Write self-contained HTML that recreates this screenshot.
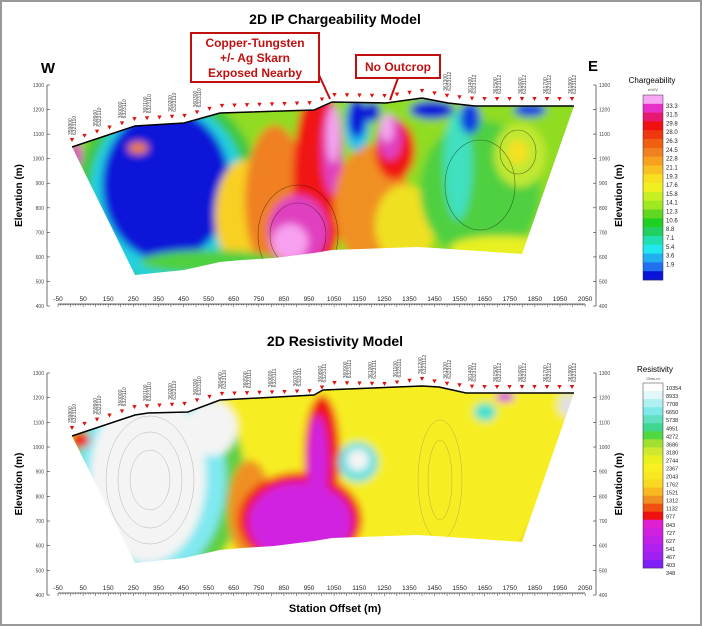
<!DOCTYPE html>
<html><head><meta charset="utf-8"><style>
html,body{margin:0;padding:0;background:#fff;}
svg{display:block;font-family:"Liberation Sans",Arial,sans-serif;}
</style></head><body>
<svg id="s" width="702" height="626" viewBox="0 0 702 626" xmlns="http://www.w3.org/2000/svg">
<defs>
<filter id="bl" x="-20%" y="-20%" width="140%" height="140%"><feGaussianBlur stdDeviation="4"/></filter>
<clipPath id="c1"><polygon points="72,147 135,126 184,123 220,113 314,110 332,102 386,103 422,98 448,103 475,106 574,106 522,254 435,248 417,247 332,250 314,253 274,258 242,260 220,262 184,270 135,275"/></clipPath>
<clipPath id="c2"><polygon points="72,436 135,415 148,413 188,412 220,400 314,395 323,390 422,386 439,387 466,393 574,393 522,542 435,536 417,535 332,538 314,541 274,546 242,548 220,550 184,558 135,563"/></clipPath>
</defs>
<rect x="0" y="0" width="702" height="626" fill="#fff"/>
<rect x="1" y="1" width="700" height="624" fill="none" stroke="#999" stroke-width="2"/>
<text x="335" y="24" font-size="14" font-weight="bold" text-anchor="middle">2D IP Chargeability Model</text>
<text x="335" y="346" font-size="14" font-weight="bold" text-anchor="middle">2D Resistivity Model</text>
<text x="335" y="612" font-size="11" font-weight="bold" text-anchor="middle">Station Offset (m)</text>
<text x="48" y="73" font-size="15" font-weight="bold" text-anchor="middle">W</text>
<text x="593" y="71" font-size="15" font-weight="bold" text-anchor="middle">E</text>

<!-- top section -->
<g clip-path="url(#c1)">
 <g filter="url(#bl)">
  <rect x="60" y="90" width="530" height="190" fill="#90dc20"/>
  <ellipse cx="168" cy="195" rx="92" ry="105" fill="#40c840"/>
  <ellipse cx="168" cy="193" rx="78" ry="90" fill="#20d0e0"/>
  <ellipse cx="166" cy="185" rx="64" ry="76" fill="#0a14d8"/>
  <ellipse cx="165" cy="138" rx="45" ry="22" fill="#0a14d8"/>
  <ellipse cx="76" cy="155" rx="6" ry="14" fill="#e040c0"/>
  <ellipse cx="138" cy="148" rx="10" ry="6" fill="#f08020"/>
  <ellipse cx="245" cy="215" rx="30" ry="55" fill="#f8d020"/>
  <ellipse cx="275" cy="200" rx="30" ry="75" fill="#f08020"/>
  <ellipse cx="318" cy="180" rx="25" ry="95" fill="#f01818"/>
  <ellipse cx="298" cy="230" rx="30" ry="35" fill="#e040c0"/>
  <ellipse cx="290" cy="242" rx="18" ry="18" fill="#f8a0f0"/>
  <ellipse cx="332" cy="150" rx="10" ry="45" fill="#e040c0"/>
  <ellipse cx="333" cy="135" rx="6" ry="28" fill="#f6a8f2"/>
  <ellipse cx="372" cy="205" rx="38" ry="60" fill="#f09020"/>
  <ellipse cx="405" cy="225" rx="30" ry="40" fill="#f0e020"/>
  <ellipse cx="357" cy="125" rx="12" ry="26" fill="#20c0f0"/>
  <ellipse cx="357" cy="118" rx="9" ry="20" fill="#0a14d8"/>
  <ellipse cx="395" cy="150" rx="20" ry="30" fill="#f01818"/>
  <ellipse cx="390" cy="138" rx="12" ry="22" fill="#e040c0"/>
  <ellipse cx="387" cy="128" rx="6" ry="14" fill="#f6a8f2"/>
  <ellipse cx="372" cy="112" rx="8" ry="10" fill="#0a14d8"/>
  <ellipse cx="480" cy="190" rx="60" ry="70" fill="#50d040"/>
  <ellipse cx="458" cy="165" rx="14" ry="55" fill="#40e0c0"/>
  <ellipse cx="520" cy="155" rx="26" ry="32" fill="#c0e830"/>
  <ellipse cx="518" cy="152" rx="10" ry="12" fill="#f8e020"/>
  <ellipse cx="432" cy="110" rx="22" ry="9" fill="#0a14d8"/>
  <ellipse cx="470" cy="118" rx="10" ry="16" fill="#1040e0"/>
  <ellipse cx="530" cy="110" rx="16" ry="7" fill="#1040e0"/>
  <ellipse cx="500" cy="248" rx="50" ry="12" fill="#e8f020"/>
  <ellipse cx="210" cy="262" rx="70" ry="12" fill="#50d040"/>
 </g>
 <g fill="none" stroke="#000" stroke-width="0.6" opacity="0.5">
  <ellipse cx="298" cy="235" rx="28" ry="32"/>
  <ellipse cx="298" cy="235" rx="40" ry="50"/>
  <ellipse cx="480" cy="185" rx="35" ry="45"/>
  <ellipse cx="518" cy="152" rx="18" ry="22"/>
 </g>
</g>
<polyline points="72,147 135,126 184,123 220,113 314,110 332,102 386,103 422,98 448,103 475,106 574,106" fill="none" stroke="#000" stroke-width="1.5"/>

<!-- bottom section -->
<g clip-path="url(#c2)">
 <g filter="url(#bl)">
  <rect x="60" y="380" width="530" height="190" fill="#f6ee20"/>
  <ellipse cx="155" cy="480" rx="90" ry="110" fill="#60d040"/>
  <ellipse cx="152" cy="478" rx="74" ry="100" fill="#80e8f0"/>
  <ellipse cx="148" cy="477" rx="58" ry="86" fill="#f4f4f4"/>
  <ellipse cx="212" cy="428" rx="25" ry="28" fill="#f4f4f4"/>
  <ellipse cx="80" cy="440" rx="10" ry="8" fill="#f01818"/>
  <ellipse cx="250" cy="510" rx="22" ry="50" fill="#f09020"/>
  <ellipse cx="300" cy="520" rx="62" ry="48" fill="#f01818"/>
  <ellipse cx="322" cy="455" rx="18" ry="60" fill="#f01818"/>
  <ellipse cx="300" cy="522" rx="52" ry="40" fill="#d020e0"/>
  <ellipse cx="318" cy="465" rx="10" ry="50" fill="#d020e0"/>
  <ellipse cx="358" cy="462" rx="20" ry="20" fill="#60e0e0"/>
  <ellipse cx="358" cy="460" rx="11" ry="11" fill="#f4f4f4"/>
  <ellipse cx="485" cy="412" rx="11" ry="9" fill="#40e0d0"/>
  <ellipse cx="505" cy="397" rx="9" ry="5" fill="#d020e0"/>
  <ellipse cx="532" cy="560" rx="10" ry="30" fill="#f0a020"/>
  <ellipse cx="568" cy="405" rx="10" ry="12" fill="#e0e0e0"/>
 </g>
 <g fill="none" stroke="#555" stroke-width="0.5" opacity="0.4">
  <ellipse cx="150" cy="480" rx="20" ry="30"/><ellipse cx="150" cy="480" rx="32" ry="48"/>
  <ellipse cx="150" cy="480" rx="44" ry="64"/>
  <ellipse cx="440" cy="480" rx="12" ry="40"/><ellipse cx="440" cy="480" rx="22" ry="60"/>
 </g>
</g>
<polyline points="72,436 135,415 148,413 188,412 220,400 314,395 323,390 422,386 439,387 466,393 574,393" fill="none" stroke="#000" stroke-width="1.5"/>

<!-- annotations -->
<rect x="191" y="33" width="128" height="49" fill="#fff" stroke="#c01010" stroke-width="2"/>
<text x="255" y="47" font-size="12" font-weight="bold" fill="#c01010" text-anchor="middle">Copper-Tungsten</text>
<text x="255" y="62" font-size="12" font-weight="bold" fill="#c01010" text-anchor="middle">+/- Ag  Skarn</text>
<text x="255" y="77" font-size="12" font-weight="bold" fill="#c01010" text-anchor="middle">Exposed Nearby</text>
<polyline points="319,75 330,99" stroke="#c01010" stroke-width="2" fill="none"/>
<rect x="356" y="55" width="84" height="23" fill="#fff" stroke="#c01010" stroke-width="2"/>
<text x="398" y="71" font-size="12" font-weight="bold" fill="#c01010" text-anchor="middle">No Outcrop</text>
<polyline points="398,78 390,100" stroke="#c01010" stroke-width="2" fill="none"/>

<g id="gen"></g>
</svg>
<script>
var g=document.getElementById('gen'),h='';
function X(s){return 58+(s+50)*0.251;}
function axes(y0,dy){
 var yb=y0+900*dy;
 h+='<line x1="47" y1="'+y0+'" x2="47" y2="'+yb+'" stroke="#333" stroke-width="0.7"/>';
 h+='<line x1="596" y1="'+y0+'" x2="596" y2="'+yb+'" stroke="#333" stroke-width="0.7"/>';
 h+='<line x1="58" y1="'+(yb-2)+'" x2="585" y2="'+(yb-2)+'" stroke="#333" stroke-width="0.8"/>';
 for(var e=400;e<=1300;e+=100){var y=y0+(1300-e)*dy;
  h+='<text x="44" y="'+(y+2)+'" font-size="5" fill="#444" text-anchor="end">'+e+'</text>';
  h+='<text x="599" y="'+(y+2)+'" font-size="5" fill="#444">'+e+'</text>';
  h+='<line x1="47" y1="'+y+'" x2="50" y2="'+y+'" stroke="#333" stroke-width="0.6"/>';
  h+='<line x1="593" y1="'+y+'" x2="596" y2="'+y+'" stroke="#333" stroke-width="0.6"/>';}
 for(var s=-50;s<=2050;s+=10){var x=X(s),L=(s%50==0)?3:1.5;
  h+='<line x1="'+x+'" y1="'+(yb-2)+'" x2="'+x+'" y2="'+(yb-2+L)+'" stroke="#333" stroke-width="0.5"/>';}
 for(var s=-50;s<=2050;s+=100){
  h+='<text x="'+X(s)+'" y="'+(yb-5)+'" font-size="6.5" fill="#222" text-anchor="middle">'+s+'</text>';}
 var ym=(y0+yb)/2;
 h+='<text transform="translate(22,'+ym+') rotate(-90)" font-size="10" font-weight="bold" text-anchor="middle">Elevation (m)</text>';
 h+='<text transform="translate(622,'+ym+') rotate(-90)" font-size="10" font-weight="bold" text-anchor="middle">Elevation (m)</text>';
}
axes(85,0.2456);
axes(373,0.2467);
var topo=[[72,147],[135,126],[184,123],[220,113],[314,110],[332,102],[386,103],[422,98],[448,103],[475,106],[574,106]];
function ty(x){for(var i=0;i<topo.length-1;i++){if(x>=topo[i][0]&&x<=topo[i+1][0]){var t=(x-topo[i][0])/(topo[i+1][0]-topo[i][0]);return topo[i][1]+t*(topo[i+1][1]-topo[i][1]);}}return topo[topo.length-1][1];}
var lab=['359800','359900','360000','360100','360200','360300','360400','360500','360600','360700','360800','360900','361000','361100','361200','361300','361400','361500','361600','361700','361800'];
[0,288].forEach(function(off){
 for(var x=72;x<=575;x+=12.5){var y=ty(Math.min(x,574))+off-6;
  h+='<polygon points="'+(x-2.2)+','+(y-3)+' '+(x+2.2)+','+(y-3)+' '+x+','+(y+1)+'" fill="#e01010"/>';}
 for(var i=0;i<lab.length;i++){var x=72+i*25,y=ty(Math.min(x,574))+off-12;
  if(off==0&&x>200&&x<440)continue;
  h+='<text transform="translate('+x+','+y+') rotate(-90)" font-size="5" fill="#444">'+lab[i]+'<tspan x="0" dy="4">63231'+(i<7?'10':(i<14?'11':'12'))+'</tspan></text>';}
});
var c1=['#f6a8f2','#e830c8','#e81870','#f01010','#f03810','#f06010','#f08020','#f8a020','#f8c020','#f8e020','#f0f020','#c8f020','#a0e820','#60d820','#20d020','#20d060','#20e0b0','#20e8f0','#20b0f0','#2070f0','#0a14d8'];
var v1=['33.3','31.5','29.8','28.0','26.3','24.5','22.8','21.1','19.3','17.6','15.8','14.1','12.3','10.6','8.8','7.1','5.4','3.6','1.9'];
var bh=185/c1.length;
h+='<text x="652" y="83" font-size="8" text-anchor="middle">Chargeability</text><text x="653" y="91" font-size="4" fill="#444" text-anchor="middle">mV/V</text>';
for(var i=0;i<c1.length;i++)h+='<rect x="643" y="'+(95+i*bh)+'" width="20" height="'+(bh+0.3)+'" fill="'+c1[i]+'"/>';
h+='<rect x="643" y="95" width="20" height="185" fill="none" stroke="#333" stroke-width="0.5"/>';
for(var i=0;i<v1.length;i++)h+='<text x="666" y="'+(97+(i+1)*bh+2)+'" font-size="6" fill="#222">'+v1[i]+'</text>';
var c2=['#ffffff','#e0f8f8','#b0f0f0','#80e8e8','#60e0c0','#40d890','#50d840','#a0e030','#d0e830','#e8f020','#f8f020','#f8e820','#f8d820','#f8b820','#f09020','#f05010','#f01010','#e020d0','#d020e0','#c020e8','#b020f0','#a020f0','#8020f8'];
var v2=['10354','8933','7708','6650','5738','4951','4272','3686','3180','2744','2367','2043','1762','1521','1312','1132','977','843','727','627','541','467','403','348'];
var bh2=185/c2.length;
h+='<text x="655" y="372" font-size="8" text-anchor="middle">Resistivity</text><text x="653" y="380" font-size="4" fill="#444" text-anchor="middle">Ohm-m</text>';
for(var i=0;i<c2.length;i++)h+='<rect x="643" y="'+(383+i*bh2)+'" width="20" height="'+(bh2+0.3)+'" fill="'+c2[i]+'"/>';
h+='<rect x="643" y="383" width="20" height="185" fill="none" stroke="#333" stroke-width="0.5"/>';
for(var i=0;i<v2.length;i++)h+='<text x="666" y="'+(383+(i+1)*bh2-1)+'" font-size="5.5" fill="#222">'+v2[i]+'</text>';
g.innerHTML=h;
</script>
</body></html>
